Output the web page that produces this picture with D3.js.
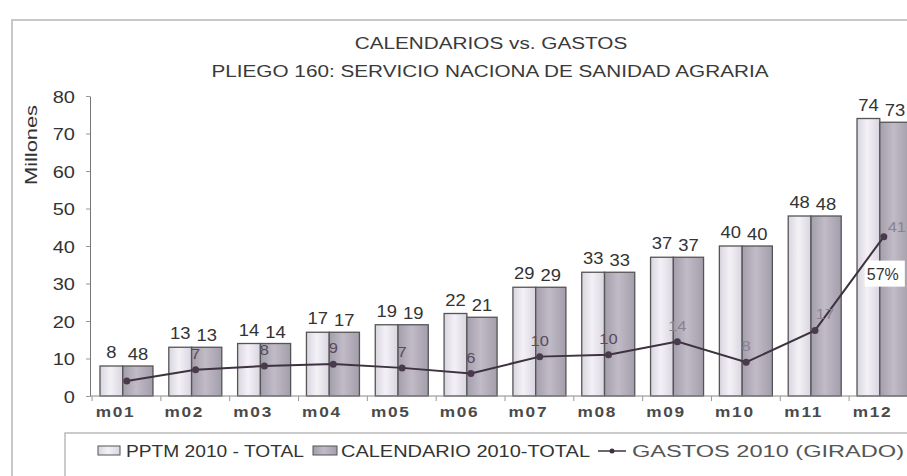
<!DOCTYPE html>
<html>
<head>
<meta charset="utf-8">
<script src="https://cdn.jsdelivr.net/npm/d3@7/dist/d3.min.js"></script>
<style>
  body { margin: 0; background: #fff; }
  svg { display: block; font-family: "Liberation Sans", Arial, sans-serif; }
</style>
</head>
<body>
<div id="chart"></div>
<script>
// data
var months = ["m01", "m02", "m03", "m04", "m05", "m06", "m07", "m08", "m09", "m10", "m11", "m12"]
var pptm = [8, 13, 14, 17, 19, 22, 29, 33, 37, 40, 48, 74]
var calendario = [8, 13, 14, 17, 19, 21, 29, 33, 37, 40, 48, 73]
var calLabels = ["48", "13", "14", "17", "19", "21", "29", "33", "37", "40", "48", "73"]
var gastos = [4, 7, 8, 8.5, 7.5, 6, 10.5, 11, 14.5, 9, 17.5, 42.5]
var gastosLabels = ["", "7", "8", "9", "7", "6", "10", "10", "14", "8", "17", "41"]
var yTicks = [0, 10, 20, 30, 40, 50, 60, 70, 80]
var seriesNames = ["PPTM 2010 - TOTAL", "CALENDARIO 2010-TOTAL", "GASTOS 2010 (GIRADO)"]
var pctLabel = "57%"

var W = 907, H = 476
var svg = d3.select("#chart").append("svg")
  .attr("width", W)
  .attr("height", H)

// the scan is stretched sideways, so texts get a horizontal scale
function stretch(sel, sx) {
  sel.each(function () {
    var t = d3.select(this)
    var tx = +t.attr("x") || 0, ty = +t.attr("y") || 0
    t.attr("x", 0).attr("y", 0)
      .attr("transform", "translate(" + tx + "," + ty + ") scale(" + sx + ",1)")
  })
}

// outer frame of the chart
svg.append("path")
  .attr("d", "M12,476 L12,20 L907,20")
  .attr("fill", "none")
  .attr("stroke", "#c8c8c8")
  .attr("stroke-width", 2)

// titles
svg.append("text")
  .attr("x", 491).attr("y", 49)
  .attr("text-anchor", "middle")
  .attr("font-size", 17)
  .attr("fill", "#3a3a3a")
  .text("CALENDARIOS vs. GASTOS")
  .call(stretch, 1.22)
svg.append("text")
  .attr("x", 490).attr("y", 77)
  .attr("text-anchor", "middle")
  .attr("font-size", 17)
  .attr("fill", "#3a3a3a")
  .text("PLIEGO 160: SERVICIO NACIONA DE SANIDAD AGRARIA")
  .call(stretch, 1.22)

var x = d3.scaleBand()
  .domain(months)
  .range([90, 920])
  .paddingInner(0.23)
  .paddingOuter(0.145)

var y = d3.scaleLinear()
  .domain([0, 80])
  .range([396, 96])

var defs = svg.append("defs")
function barGradient(id, edge, mid) {
  var g = defs.append("linearGradient").attr("id", id)
    .attr("x1", "0%").attr("x2", "100%").attr("y1", "0%").attr("y2", "0%")
  g.append("stop").attr("offset", "0%").attr("stop-color", edge)
  g.append("stop").attr("offset", "45%").attr("stop-color", mid)
  g.append("stop").attr("offset", "100%").attr("stop-color", edge)
}
barGradient("gPptm", "#d9d5e0", "#f3f1f6")
barGradient("gCal", "#a39eab", "#c0bbc6")

// y axis
var yAxis = d3.axisLeft(y).tickValues(yTicks).tickSize(4).tickSizeOuter(0)
var ya = svg.append("g")
  .attr("transform", "translate(90,0)")
  .call(yAxis)
ya.select(".domain").attr("stroke", "#777")
ya.selectAll(".tick line").attr("stroke", "#999")
ya.selectAll("text")
  .attr("font-size", 16)
  .attr("fill", "#333")
  .attr("font-family", "Liberation Sans, Arial, sans-serif")
  .attr("dy", null)
  .attr("x", 0)
  .attr("transform", "translate(-15,6) scale(1.25,1)")

svg.append("text")
  .attr("transform", "translate(37,145) rotate(-90)")
  .attr("text-anchor", "middle")
  .attr("font-size", 17)
  .attr("fill", "#333")
  .attr("textLength", 80)
  .attr("lengthAdjust", "spacingAndGlyphs")
  .text("Millones")

// bars
var leftW = x.bandwidth() * 0.43
var groups = svg.append("g").selectAll("g.month")
  .data(months)
  .enter().append("g")
  .attr("class", "month")

groups.append("rect")
  .attr("x", function (d) { return x(d) })
  .attr("y", function (d, i) { return y(pptm[i]) })
  .attr("width", leftW)
  .attr("height", function (d, i) { return y(0) - y(pptm[i]) })
  .attr("fill", "url(#gPptm)")
  .attr("stroke", "#555")
  .attr("stroke-width", 1.3)

groups.append("rect")
  .attr("x", function (d) { return x(d) + leftW })
  .attr("y", function (d, i) { return y(calendario[i]) })
  .attr("width", x.bandwidth() - leftW)
  .attr("height", function (d, i) { return y(0) - y(calendario[i]) })
  .attr("fill", "url(#gCal)")
  .attr("stroke", "#555")
  .attr("stroke-width", 1.3)

// x axis
svg.append("line")
  .attr("x1", 90).attr("x2", 907)
  .attr("y1", y(0)).attr("y2", y(0))
  .attr("stroke", "#888")
svg.append("g").selectAll("line.xt")
  .data(months)
  .enter().append("line")
  .attr("x1", function (d) { return x(d) - x.step() * x.paddingInner() / 2 })
  .attr("x2", function (d) { return x(d) - x.step() * x.paddingInner() / 2 })
  .attr("y1", y(0)).attr("y2", y(0) + 5)
  .attr("stroke", "#999")

svg.append("g").selectAll("text.xl")
  .data(months)
  .enter().append("text")
  .attr("x", function (d) { return x(d) + x.bandwidth() / 2 - 11 })
  .attr("y", 417)
  .attr("text-anchor", "middle")
  .attr("font-size", 15)
  .attr("font-weight", "bold")
  .attr("letter-spacing", 1.5)
  .attr("fill", "#4a4a4a")
  .text(function (d) { return d })
  .call(stretch, 1.15)

// bar labels
svg.append("g").selectAll("text.pl")
  .data(months)
  .enter().append("text")
  .attr("x", function (d) { return x(d) + leftW / 2 })
  .attr("y", function (d, i) { return y(pptm[i]) - 8 })
  .attr("text-anchor", "middle")
  .attr("font-size", 16)
  .attr("fill", "#333")
  .text(function (d, i) { return pptm[i] })
  .call(stretch, 1.15)

svg.append("g").selectAll("text.cl")
  .data(months)
  .enter().append("text")
  .attr("x", function (d) { return x(d) + leftW + (x.bandwidth() - leftW) / 2 })
  .attr("y", function (d, i) { return y(calendario[i]) - 6 })
  .attr("text-anchor", "middle")
  .attr("font-size", 16)
  .attr("fill", "#333")
  .text(function (d, i) { return calLabels[i] })
  .call(stretch, 1.15)

// gastos line
var cx = function (d, i) { return x(months[i]) + leftW + 4 }
var line = d3.line()
  .x(cx)
  .y(function (d) { return y(d) })

// percentage box on the last month (under the line)
var last = months.length - 1
var px = x(months[last]) + leftW + 4
svg.append("rect")
  .attr("x", px - 19).attr("y", y(gastos[last]) + 24)
  .attr("width", 40).attr("height", 26)
  .attr("fill", "#fff")
svg.append("text")
  .attr("x", px - 17).attr("y", y(gastos[last]) + 43)
  .attr("font-size", 16)
  .attr("fill", "#333")
  .text(pctLabel)

svg.append("path")
  .datum(gastos)
  .attr("d", line)
  .attr("fill", "none")
  .attr("stroke", "#3d3240")
  .attr("stroke-width", 2)

svg.append("g").selectAll("circle")
  .data(gastos)
  .enter().append("circle")
  .attr("cx", cx)
  .attr("cy", function (d) { return y(d) })
  .attr("r", 3.5)
  .attr("fill", "#4a3a4e")

svg.append("g").selectAll("text.gl")
  .data(gastos)
  .enter().append("text")
  .attr("x", function (d, i) { return cx(d, i) + (i == 11 ? 13 : i == 10 ? 10 : 0) })
  .attr("y", function (d, i) { return y(d) - (i == 11 ? 5 : 11) })
  .attr("text-anchor", "middle")
  .attr("font-size", 15)
  .attr("fill", function (d, i) { return i >= 8 ? "#8a8290" : "#5a4a5a" })
  .text(function (d, i) { return gastosLabels[i] })
  .call(stretch, 1.1)

// legend
svg.append("rect")
  .attr("x", 65).attr("y", 433)
  .attr("width", 860).attr("height", 60)
  .attr("fill", "#fff")
  .attr("stroke", "#bbb")
  .attr("stroke-width", 1.5)

var lg = svg.append("g")
lg.append("rect").attr("x", 98).attr("y", 446).attr("width", 22).attr("height", 9)
  .attr("fill", "url(#gPptm)").attr("stroke", "#555")
lg.append("text").attr("x", 126).attr("y", 457).attr("font-size", 16).attr("fill", "#333")
  .attr("textLength", 178).attr("lengthAdjust", "spacingAndGlyphs")
  .text(seriesNames[0])
lg.append("rect").attr("x", 313).attr("y", 446).attr("width", 24).attr("height", 9)
  .attr("fill", "url(#gCal)").attr("stroke", "#555")
lg.append("text").attr("x", 341).attr("y", 457).attr("font-size", 16).attr("fill", "#333")
  .attr("textLength", 249).attr("lengthAdjust", "spacingAndGlyphs")
  .text(seriesNames[1])
lg.append("line").attr("x1", 598).attr("x2", 626).attr("y1", 451).attr("y2", 451)
  .attr("stroke", "#3d3240").attr("stroke-width", 1.5)
lg.append("circle").attr("cx", 612).attr("cy", 451).attr("r", 2.5).attr("fill", "#3d3240")
lg.append("text").attr("x", 632).attr("y", 457).attr("font-size", 16).attr("fill", "#555")
  .attr("textLength", 272).attr("lengthAdjust", "spacingAndGlyphs")
  .text(seriesNames[2])
</script>
</body>
</html>
